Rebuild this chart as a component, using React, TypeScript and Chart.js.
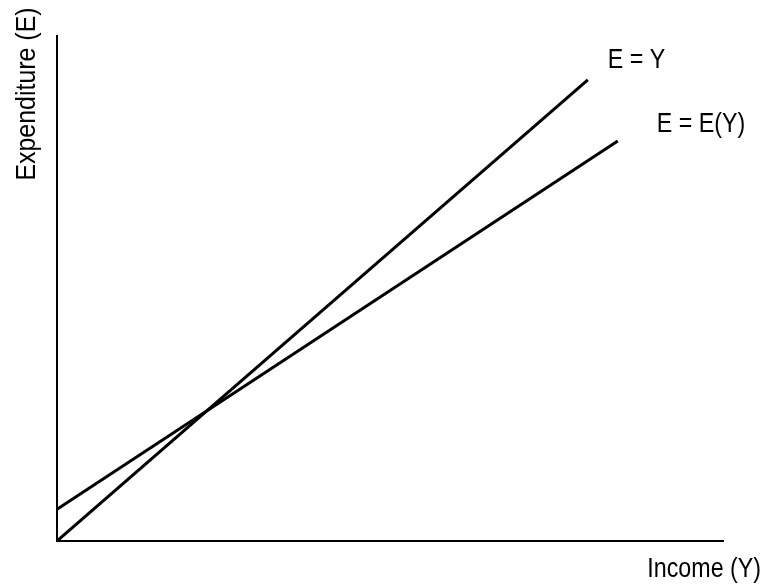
import React, { useEffect, useRef } from "react";
import { Chart, registerables } from "chart.js";

Chart.register(...registerables);

// Data (axis units 0..100)
const incomeEqualsLine = [0, 79.7];
const expenditureEqualsLine = [0, 91.3];
const incomeExpLine = [0, 84.2];
const expenditureExpLine = [6.3, 79.2];
const seriesLabels = ["E = Y", "E = E(Y)"];
const axisLabels = { x: "Income (Y)", y: "Expenditure (E)" };

const FONT = '28px "Liberation Sans", Arial, sans-serif';
const NARROW = 0.83;

function drawText(
  ctx: CanvasRenderingContext2D,
  text: string,
  x: number,
  y: number,
  align: CanvasTextAlign,
  rotate = 0,
  narrow = NARROW
) {
  ctx.save();
  ctx.translate(x, y);
  if (rotate) ctx.rotate(rotate);
  ctx.scale(narrow, 1);
  ctx.textAlign = align;
  ctx.fillText(text, 0, 0);
  ctx.restore();
}

const textPlugin = {
  id: "textLabels",
  afterDraw(chart: any) {
    const { ctx, chartArea } = chart;
    const xs = chart.scales.x;
    const ys = chart.scales.y;
    ctx.save();
    ctx.fillStyle = "#000";
    ctx.font = FONT;
    ctx.textBaseline = "alphabetic";
    drawText(
      ctx,
      seriesLabels[0],
      xs.getPixelForValue(incomeEqualsLine[1]) + 20,
      ys.getPixelForValue(expenditureEqualsLine[1]) - 12,
      "left"
    );
    drawText(
      ctx,
      seriesLabels[1],
      xs.getPixelForValue(incomeExpLine[1]) + 39,
      ys.getPixelForValue(expenditureExpLine[1]) - 9,
      "left"
    );
    drawText(ctx, axisLabels.x, chartArea.right + 38, chartArea.bottom + 36, "right");
    drawText(ctx, axisLabels.y, chartArea.left - 22, chartArea.top + 58, "center", -Math.PI / 2, 0.89);
    ctx.restore();
  },
};

export default function App() {
  const ref = useRef<HTMLCanvasElement>(null);
  useEffect(() => {
    document.body.style.margin = "0";
    const canvas = ref.current!;
    const chart = new Chart(canvas, {
      type: "scatter",
      data: {
        datasets: [
          {
            label: seriesLabels[0],
            data: incomeEqualsLine.map((x, i) => ({ x, y: expenditureEqualsLine[i] })),
            showLine: true,
            borderColor: "#000",
            borderWidth: 3,
            pointRadius: 0,
          },
          {
            label: seriesLabels[1],
            data: incomeExpLine.map((x, i) => ({ x, y: expenditureExpLine[i] })),
            showLine: true,
            borderColor: "#000",
            borderWidth: 3,
            pointRadius: 0,
          },
        ],
      },
      options: {
        responsive: false,
        animation: false,
        layout: { padding: { left: 57, top: 36, right: 41, bottom: 47 } },
        plugins: { legend: { display: false }, tooltip: { enabled: false } },
        scales: {
          x: {
            type: "linear",
            min: 0,
            max: 100,
            grid: { display: false, drawTicks: false },
            ticks: { display: false },
            border: { display: true, color: "#000", width: 2 },
          },
          y: {
            type: "linear",
            min: 0,
            max: 100,
            grid: { display: false, drawTicks: false },
            ticks: { display: false },
            border: { display: true, color: "#000", width: 2 },
          },
        },
      },
      plugins: [textPlugin],
    });
    return () => chart.destroy();
  }, []);
  return <canvas ref={ref} width={764} height={588} style={{ display: "block" }} />;
}
